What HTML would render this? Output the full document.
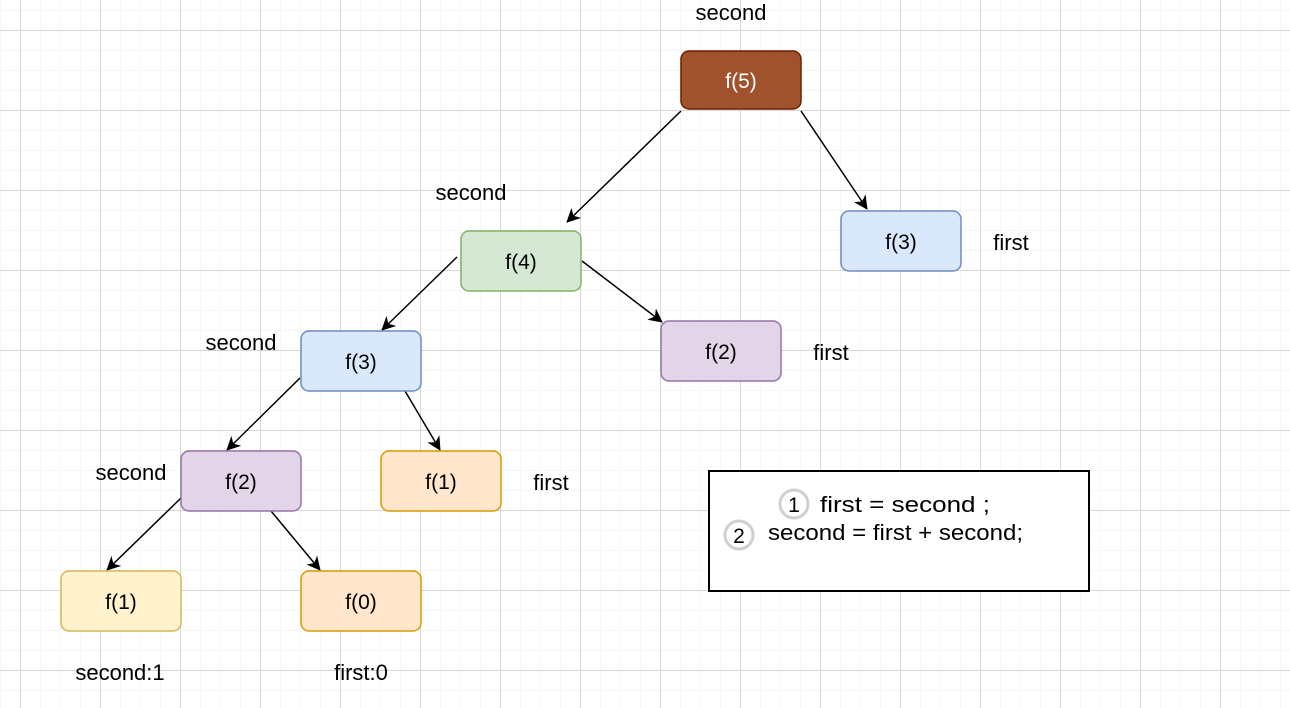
<!DOCTYPE html>
<html><head><style>
body{margin:0;width:1290px;height:708px;overflow:hidden;background:#fff}
svg{display:block;font-family:"Liberation Sans",Arial,sans-serif}
</style></head><body>
<svg width="1290" height="708" viewBox="0 0 1290 708">
<defs>
<pattern id="mi" width="20" height="20" patternUnits="userSpaceOnUse" x="0" y="10">
<path d="M0 0H20M0 0V20" stroke="#eeeeee" stroke-width="1" fill="none"/>
</pattern>
<pattern id="ma" width="80" height="80" patternUnits="userSpaceOnUse" x="20" y="30">
<path d="M0 0.5H80M0.5 0V80" stroke="#d6d6d6" stroke-width="1" fill="none"/>
</pattern>
<marker id="ar" markerWidth="14" markerHeight="14" refX="13" refY="7" orient="auto" markerUnits="userSpaceOnUse">
<path d="M0 0L14 7L0 14L4 7Z" fill="#000"/>
</marker>
</defs>
<rect width="1290" height="708" fill="url(#mi)"/>
<rect width="1290" height="708" fill="url(#ma)"/>
<g stroke="#000" stroke-width="1.5" marker-end="url(#ar)">
<line x1="681" y1="111" x2="567" y2="222"/>
<line x1="801" y1="111" x2="867" y2="209"/>
<line x1="457" y1="257" x2="382" y2="330"/>
<line x1="582" y1="261" x2="662" y2="322"/>
<line x1="300" y1="378" x2="227" y2="450"/>
<line x1="405" y1="391" x2="440" y2="450"/>
<line x1="181" y1="498" x2="107" y2="570"/>
<line x1="271" y1="511" x2="320" y2="570"/>
</g>
<g stroke-width="1.5" font-size="21" text-anchor="middle">
<rect x="681" y="51" width="120" height="58" rx="8" fill="#a0522d" stroke="#6d1f00"/><text x="741" y="88" fill="#fff" stroke="none">f(5)</text>
<rect x="461" y="231" width="120" height="60" rx="8" fill="#d5e8d4" stroke="#82b366"/><text x="521" y="269" stroke="none">f(4)</text>
<rect x="841" y="211" width="120" height="60" rx="8" fill="#dae8fc" stroke="#6c8ebf"/><text x="901" y="249" stroke="none">f(3)</text>
<rect x="661" y="321" width="120" height="60" rx="8" fill="#e1d5e7" stroke="#9673a6"/><text x="721" y="359" stroke="none">f(2)</text>
<rect x="301" y="331" width="120" height="60" rx="8" fill="#dae8fc" stroke="#6c8ebf"/><text x="361" y="369" stroke="none">f(3)</text>
<rect x="181" y="451" width="120" height="60" rx="8" fill="#e1d5e7" stroke="#9673a6"/><text x="241" y="489" stroke="none">f(2)</text>
<rect x="381" y="451" width="120" height="60" rx="8" fill="#ffe6cc" stroke="#d79b00"/><text x="441" y="489" stroke="none">f(1)</text>
<rect x="61" y="571" width="120" height="60" rx="8" fill="#fff2cc" stroke="#d6b656"/><text x="121" y="609" stroke="none">f(1)</text>
<rect x="301" y="571" width="120" height="60" rx="8" fill="#ffe6cc" stroke="#d79b00"/><text x="361" y="609" stroke="none">f(0)</text>
</g>
<g font-size="22" text-anchor="middle">
<text x="731" y="20">second</text>
<text x="471" y="200">second</text>
<text x="241" y="350">second</text>
<text x="131" y="480">second</text>
<text x="1011" y="250">first</text>
<text x="831" y="360">first</text>
<text x="551" y="490">first</text>
<text x="120" y="680">second:1</text>
<text x="361" y="680">first:0</text>
</g>
<rect x="709" y="471" width="380" height="120" fill="#fff" stroke="#000" stroke-width="2"/>
<circle cx="794" cy="504" r="14" fill="#fff" stroke="#d0d0d0" stroke-width="3"/>
<text x="794" y="512" font-size="21" text-anchor="middle">1</text>
<circle cx="739" cy="535" r="14" fill="#fff" stroke="#d0d0d0" stroke-width="3"/>
<text x="739" y="543" font-size="21" text-anchor="middle">2</text>
<text x="820" y="512" font-size="22" textLength="170" lengthAdjust="spacingAndGlyphs">first = second ;</text>
<text x="768" y="540" font-size="22" textLength="255" lengthAdjust="spacingAndGlyphs">second = first + second;</text>
</svg>
</body></html>
